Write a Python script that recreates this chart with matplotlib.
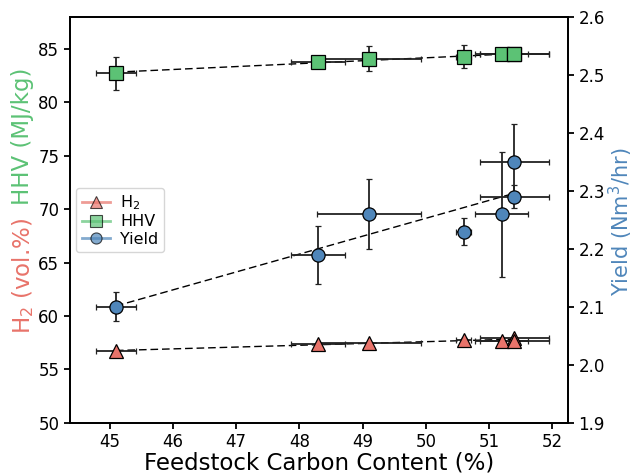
import numpy as np
import matplotlib
matplotlib.use("Agg")
import matplotlib.pyplot as plt
from matplotlib.lines import Line2D

# ---- data ----
carbon = [45.1, 48.3, 49.1, 50.6, 51.2, 51.4, 51.4]
carbon_err = [0.31, 0.43, 0.82, 0.12, 0.42, 0.55, 0.55]

h2 = [56.7, 57.4, 57.5, 57.8, 57.7, 57.9, 57.7]
h2_err = [0.1, 0.1, 0.1, 0.1, 0.1, 0.1, 0.1]

hhv = [82.75, 83.8, 84.1, 84.3, 84.5, 84.55, 84.5]
hhv_err = [1.55, 0.15, 1.15, 1.1, 0.1, 0.1, 0.1]

yld = [2.10, 2.19, 2.26, 2.23, 2.26, 2.29, 2.35]
yld_err = [0.025, 0.05, 0.06, 0.023, 0.108, 0.02, 0.065]

c_h2 = "#E8736A"
c_hhv = "#5CC275"
c_yld = "#4F86BA"

fig = plt.figure(figsize=(6.34, 4.74), dpi=100)
ax = fig.add_axes([0.110, 0.108, 0.786, 0.856])
ax2 = ax.twinx()

eb_kw = dict(ecolor="#222222", elinewidth=1.3, capsize=2.2, capthick=1.0,
             markeredgecolor="black", markeredgewidth=0.9, ms=9.5, ls="none", zorder=3)

x = np.array(carbon)
xl = np.linspace(x.min(), x.max(), 2)

def trend(ax_, y):
    p = np.polyfit(x, np.array(y), 1)
    ax_.plot(xl, np.polyval(p, xl), color="black", lw=1.0, dashes=(5.5, 2.8), zorder=2)

trend(ax, h2)
trend(ax, hhv)
trend(ax2, yld)

ax.errorbar(carbon, h2, yerr=h2_err, xerr=carbon_err, fmt="^", color=c_h2, **eb_kw)
ax.errorbar(carbon, hhv, yerr=hhv_err, xerr=carbon_err, fmt="s", color=c_hhv, **eb_kw)
ax2.errorbar(carbon, yld, yerr=yld_err, xerr=carbon_err, fmt="o", color=c_yld, **eb_kw)

ax.set_xlim(44.37, 52.25)
ax.set_ylim(50, 88)
ax.set_yticks(np.arange(50, 86, 5))
ax2.set_ylim(1.9, 2.6)
ax2.set_yticks(np.arange(1.9, 2.61, 0.1))
ax2.set_yticklabels([f"{v:.1f}" for v in np.arange(1.9, 2.61, 0.1)])

for a in (ax, ax2):
    a.tick_params(labelsize=12, width=1.3, length=4)
    for s in a.spines.values():
        s.set_linewidth(1.3)

fig.text(0.503, 0.023, "Feedstock Carbon Content (%)", fontsize=16.5,
         ha="center", va="center")
fig.text(0.980, 0.532, "Yield (Nm$^3$/hr)", rotation=90, fontsize=15, color=c_yld,
         ha="center", va="center")
fig.text(0.036, 0.418, "H$_2$ (vol.%)", rotation=90, fontsize=16.5, color=c_h2,
         ha="center", va="center")
fig.text(0.036, 0.712, "HHV (MJ/kg)", rotation=90, fontsize=16.5, color=c_hhv,
         ha="center", va="center")

handles = [
    Line2D([], [], color=c_h2, alpha=0.7, lw=2, marker="^", ms=8,
           markerfacecolor=c_h2, markeredgecolor="black", markeredgewidth=0.8),
    Line2D([], [], color=c_hhv, alpha=0.7, lw=2, marker="s", ms=8,
           markerfacecolor=c_hhv, markeredgecolor="black", markeredgewidth=0.8),
    Line2D([], [], color=c_yld, alpha=0.7, lw=2, marker="o", ms=8,
           markerfacecolor=c_yld, markeredgecolor="black", markeredgewidth=0.8),
]
ax.legend(handles, ["H$_2$", "HHV", "Yield"], loc="center left", fontsize=11.5,
          handlelength=1.8, borderaxespad=0.4, labelspacing=0.15,
          borderpad=0.35, handletextpad=0.6)

fig.savefig("out.png", dpi=100)
